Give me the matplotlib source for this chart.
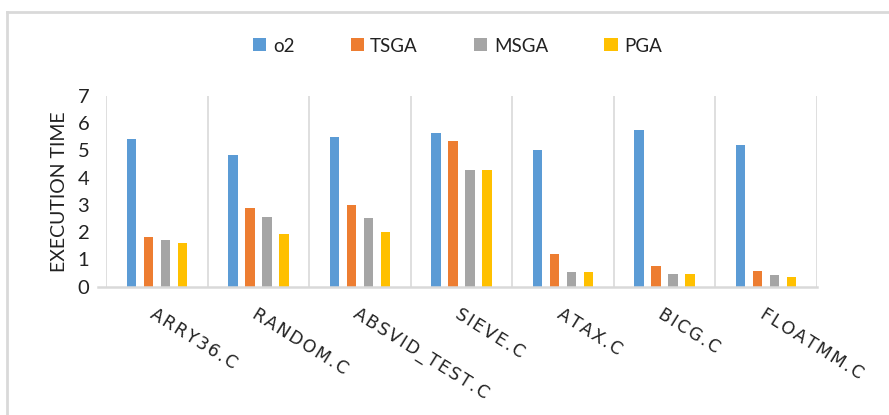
import matplotlib
matplotlib.use("Agg")
import matplotlib.pyplot as plt
from matplotlib.lines import Line2D
import matplotlib.transforms as mtrans
import numpy as np

categories = ["ARRY36.C", "RANDOM.C", "ABSVID_TEST.C", "SIEVE.C", "ATAX.C", "BICG.C", "FLOATMM.C"]
series_names = ["o2", "TSGA", "MSGA", "PGA"]
o2 = [5.43, 4.83, 5.48, 5.66, 5.01, 5.75, 5.20]
tsga = [1.84, 2.88, 3.00, 5.35, 1.21, 0.75, 0.57]
msga = [1.70, 2.55, 2.54, 4.28, 0.53, 0.48, 0.42]
pga = [1.59, 1.95, 2.00, 4.28, 0.53, 0.48, 0.36]
yticks = [0, 1, 2, 3, 4, 5, 6, 7]
colors = ["#5B9BD5", "#ED7D31", "#A5A5A5", "#FFC000"]

plt.rcParams['font.family'] = ['Lato', 'DejaVu Sans']

W, H = 889, 415
fig = plt.figure(figsize=(W / 100, H / 100), dpi=100)
left, right, top, bottom = 106, 817, 96, 286.7
ax = fig.add_axes([left / W, 1 - bottom / H, (right - left) / W, (bottom - top) / H])

x = np.arange(len(categories))
step = 0.167
bw = 0.093
handles = []
for k, (vals, c) in enumerate(zip([o2, tsga, msga, pga], colors)):
    b = ax.bar(x + (k - 1.5) * step, vals, width=bw, color=c, label=series_names[k], zorder=3)
    handles.append(b)

ax.set_xlim(-0.5, len(categories) - 0.5)
ax.set_ylim(0, 7)
ax.set_yticks(yticks)
ax.set_yticklabels([str(t) for t in yticks], fontsize=14.5, color="#222222")
ax.tick_params(axis='y', length=0, pad=12)
ax.tick_params(axis='x', length=0)
ax.set_xticks([])
for s in ax.spines.values():
    s.set_visible(False)

# category separators
for b in np.arange(-0.5, len(categories), 1.0):
    ax.axvline(b, color="#d9d9d9", lw=1.2, zorder=1)
# baseline (extends slightly to the left)
ax.add_line(Line2D([-8 / (right - left), 1.0], [0, 0], transform=ax.transAxes,
                   color="#d9d9d9", lw=1.8, clip_on=False, zorder=4))

ax.set_ylabel("EXECUTION TIME", fontsize=14, color="#222222", labelpad=7)

# x labels rotated
trans = mtrans.blended_transform_factory(ax.transData, ax.transAxes)
off = mtrans.ScaledTranslation(0, -18 / 100, fig.dpi_scale_trans)
for i, cat in enumerate(categories):
    ax.text(i, 0, "\u200a".join(cat), transform=trans + off, rotation=-32,
            rotation_mode='anchor', ha='left', va='top', fontsize=12.5,
            color="#222222", family=['DejaVu Sans'])

leg = fig.legend(handles=handles, labels=series_names, loc='center',
                 bbox_to_anchor=(457.5 / W, 1 - 46 / H), ncol=4, frameon=False,
                 fontsize=13.5, handlelength=0.7, handleheight=0.7,
                 handletextpad=0.35, columnspacing=3.0)
for t in leg.get_texts():
    t.set_color("#222222")

# chart area border (top and left visible)
fig.add_artist(Line2D([7 / W, 1.0], [1 - 12 / H, 1 - 12 / H], transform=fig.transFigure,
                      color="#d9d9d9", lw=2))
fig.add_artist(Line2D([7 / W, 7 / W], [0, 1 - 12 / H], transform=fig.transFigure,
                      color="#d9d9d9", lw=2))

fig.savefig("out.png", dpi=100, facecolor="white")
